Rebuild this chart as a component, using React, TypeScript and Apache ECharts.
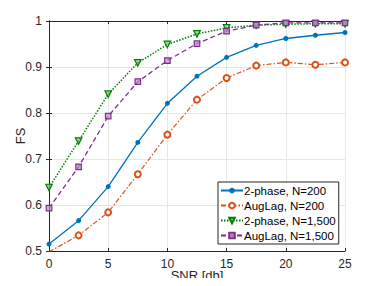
import React, { useEffect, useRef } from "react";
import * as echarts from "echarts";

const snr = [0, 2.5, 5, 7.5, 10, 12.5, 15, 17.5, 20, 22.5, 25];
const twoPhase200 = [0.515, 0.566, 0.64, 0.736, 0.821, 0.88, 0.921, 0.947, 0.962, 0.969, 0.975];
const augLag200 = [0.498, 0.534, 0.584, 0.667, 0.753, 0.829, 0.876, 0.903, 0.91, 0.905, 0.91];
const twoPhase1500 = [0.638, 0.739, 0.841, 0.909, 0.949, 0.972, 0.985, 0.991, 0.993, 0.994, 0.994];
const augLag1500 = [0.593, 0.683, 0.793, 0.868, 0.914, 0.951, 0.978, 0.991, 0.996, 0.996, 0.996];
const xTicks = { min: 0, max: 25, interval: 5 };
const yTicks = { min: 0.5, max: 1, interval: 0.1 };

const FONT = "Liberation Sans, Arial, sans-serif";
const AX = "#262626";

const pair = (ys: number[]) => snr.map((x, i) => [x, ys[i]]);

export default function App() {
  const ref = useRef<HTMLDivElement>(null);
  useEffect(() => {
    if (!ref.current) return;
    const chart = echarts.init(ref.current, undefined, { renderer: "svg" });
    const axisCommon = {
      axisLine: { show: true, lineStyle: { color: AX, width: 1 } },
      axisTick: { show: true, inside: true, length: 3, lineStyle: { color: AX } },
      splitLine: { show: false },
    };
    chart.setOption({
      animation: false,
      backgroundColor: "#fff",
      textStyle: { fontFamily: FONT },
      grid: { left: 49, right: 37, top: 21, bottom: 35, containLabel: false, outerBoundsMode: "none" },
      xAxis: [
        {
          type: "value",
          ...xTicks,
          ...axisCommon,
          splitLine: { show: true, lineStyle: { color: "#e6e6e6", width: 1 } },
          axisLabel: { color: AX, fontSize: 12, fontFamily: FONT, margin: 7 },
          name: "SNR [db]",
          nameLocation: "middle",
          nameGap: 18,
          nameMoveOverlap: false,
          nameTextStyle: { color: AX, fontSize: 13, fontFamily: FONT, verticalAlign: "top" },
        },
        {
          type: "value",
          position: "top",
          ...xTicks,
          ...axisCommon,
          axisLabel: { show: false },
        },
      ],
      yAxis: [
        {
          type: "value",
          ...yTicks,
          ...axisCommon,
          splitLine: { show: true, lineStyle: { color: "#e6e6e6", width: 1 } },
          axisLabel: {
            color: AX,
            fontSize: 12,
            fontFamily: FONT,
            margin: 7,
            formatter: (v: number) => String(parseFloat(v.toFixed(1))),
          },
          name: "FS",
          nameLocation: "middle",
          nameGap: 22,
          nameMoveOverlap: false,
          nameTextStyle: { color: AX, fontSize: 13, fontFamily: FONT },
        },
        {
          type: "value",
          position: "right",
          ...yTicks,
          ...axisCommon,
          axisLabel: { show: false },
        },
      ],
      legend: {
        left: 218,
        top: 182,
        orient: "vertical",
        backgroundColor: "#fff",
        borderColor: AX,
        borderWidth: 1,
        padding: [2, 3, 2, 2],
        itemGap: 2,
        itemWidth: 22,
        itemHeight: 7,
        textStyle: { color: "#000", fontSize: 11.5, fontFamily: FONT, lineHeight: 13, padding: [0, 0, 0, -4] },
        data: ["2-phase, N=200", "AugLag, N=200", "2-phase, N=1,500", "AugLag, N=1,500"],
      },
      series: [
        {
          name: "2-phase, N=200",
          type: "line",
          data: pair(twoPhase200),
          symbol: "circle",
          symbolSize: 5,
          lineStyle: { color: "#0072BD", width: 1.3, type: "solid" },
          itemStyle: { color: "#0072BD" },
        },
        {
          name: "AugLag, N=200",
          type: "line",
          data: pair(augLag200),
          symbol: "emptyCircle",
          symbolSize: 6,
          lineStyle: { color: "#D95319", width: 1.2, type: [5, 2, 1.5, 2] },
          itemStyle: { color: "#D95319", borderColor: "#D95319", borderWidth: 1.2 },
        },
        {
          name: "2-phase, N=1,500",
          type: "line",
          data: pair(twoPhase1500),
          symbol: "triangle",
          symbolRotate: 180,
          symbolSize: 6.5,
          lineStyle: { color: "#008000", width: 1.5, type: [1.5, 1.5] },
          itemStyle: { color: "rgba(120,190,120,0.6)", borderColor: "#008000", borderWidth: 1.2 },
        },
        {
          name: "AugLag, N=1,500",
          type: "line",
          data: pair(augLag1500),
          symbol: "rect",
          symbolSize: 5.5,
          lineStyle: { color: "#7E2F8E", width: 1.3, type: [5, 3] },
          itemStyle: { color: "rgba(190,140,200,0.7)", borderColor: "#7E2F8E", borderWidth: 1.2 },
        },
      ],
    });
    return () => chart.dispose();
  }, []);
  return <div ref={ref} style={{ width: 382, height: 286, margin: -8 }} />;
}
